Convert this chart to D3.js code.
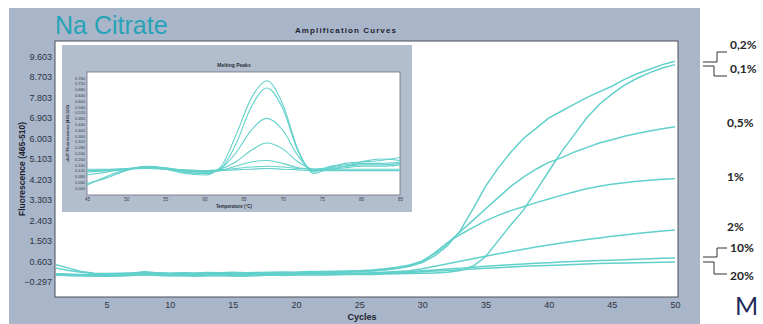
<!DOCTYPE html>
<html>
<head>
<meta charset="utf-8">
<script src="https://cdn.jsdelivr.net/npm/d3@7"></script>
<style>
  body { margin: 0; background: #fff; }
  svg { display: block; }
</style>
</head>
<body>
<div id="chart"></div>
<script>
// Amplification data, cycles 1..50
const cycles = d3.range(1, 51);
const seriesNames = ["0,2%", "0,1%", "0,5%", "1%", "2%", "10%", "20%"];

const s02 = [0.05, 0.02, 0.00, 0.01, 0.03, 0.05, 0.06, 0.10, 0.07, 0.05,
  0.06, 0.04, 0.05, 0.07, 0.06, 0.05, 0.07, 0.08, 0.07, 0.09,
  0.10, 0.12, 0.11, 0.12, 0.14, 0.17, 0.22, 0.28, 0.38, 0.55,
  0.85, 1.30, 1.95, 2.90, 3.90, 4.70, 5.40, 6.00, 6.45, 6.90,
  7.20, 7.50, 7.80, 8.05, 8.30, 8.60, 8.85, 9.05, 9.25, 9.40];
const s01 = [0.00, -0.02, -0.03, -0.02, -0.04, -0.03, -0.01, 0.02, 0.00, -0.02,
  -0.01, -0.04, -0.02, -0.01, -0.05, -0.03, -0.02, 0.00, -0.01, 0.01,
  0.02, 0.00, 0.01, 0.02, 0.03, 0.02, 0.04, 0.05, 0.06, 0.07,
  0.09, 0.12, 0.20, 0.38, 0.80, 1.50, 2.20, 2.85, 3.70, 4.55,
  5.40, 6.15, 6.90, 7.50, 7.95, 8.35, 8.65, 8.90, 9.10, 9.25];
const s05 = [0.45, 0.30, 0.15, 0.08, 0.06, 0.07, 0.09, 0.12, 0.10, 0.08,
  0.10, 0.09, 0.11, 0.10, 0.12, 0.10, 0.11, 0.12, 0.13, 0.12,
  0.14, 0.15, 0.16, 0.17, 0.19, 0.22, 0.27, 0.34, 0.44, 0.62,
  0.95, 1.40, 1.90, 2.40, 2.90, 3.40, 3.90, 4.30, 4.65, 4.95,
  5.15, 5.40, 5.60, 5.80, 5.95, 6.10, 6.22, 6.33, 6.43, 6.52];
const s1 = [0.30, 0.20, 0.12, 0.06, 0.04, 0.05, 0.08, 0.14, 0.09, 0.06,
  0.07, 0.05, 0.08, 0.09, 0.07, 0.06, 0.09, 0.10, 0.09, 0.11,
  0.15, 0.13, 0.12, 0.14, 0.16, 0.19, 0.23, 0.30, 0.40, 0.60,
  0.98, 1.42, 1.78, 2.08, 2.38, 2.62, 2.83, 3.00, 3.18, 3.34,
  3.50, 3.65, 3.79, 3.90, 3.99, 4.06, 4.12, 4.17, 4.21, 4.23];
const s2 = [0.05, 0.03, 0.02, 0.00, -0.02, 0.00, 0.03, 0.06, 0.04, 0.02,
  0.03, 0.01, 0.00, 0.03, 0.02, 0.00, 0.04, 0.05, 0.03, 0.04,
  0.06, 0.05, 0.06, 0.07, 0.08, 0.10, 0.12, 0.15, 0.19, 0.27,
  0.38, 0.49, 0.60, 0.71, 0.82, 0.93, 1.03, 1.13, 1.23, 1.32,
  1.40, 1.48, 1.56, 1.63, 1.70, 1.76, 1.82, 1.88, 1.93, 1.98];
const s10 = [0.02, 0.00, -0.01, -0.02, -0.05, -0.03, 0.00, 0.04, 0.01, -0.01,
  0.00, -0.03, -0.01, 0.02, 0.00, -0.02, 0.01, 0.03, 0.01, 0.03,
  0.05, 0.04, 0.03, 0.05, 0.06, 0.08, 0.10, 0.12, 0.15, 0.18,
  0.22, 0.26, 0.30, 0.34, 0.38, 0.42, 0.45, 0.48, 0.51, 0.54,
  0.57, 0.59, 0.61, 0.63, 0.65, 0.67, 0.69, 0.71, 0.73, 0.75];
const s20 = [0.00, -0.02, -0.04, -0.05, -0.06, -0.04, -0.02, 0.01, -0.02, -0.04,
  -0.03, -0.05, -0.03, -0.02, -0.04, -0.05, -0.02, 0.00, -0.02, 0.00,
  0.02, 0.01, 0.02, 0.03, 0.04, 0.05, 0.07, 0.09, 0.11, 0.14,
  0.17, 0.20, 0.23, 0.26, 0.29, 0.32, 0.35, 0.38, 0.40, 0.42,
  0.44, 0.46, 0.48, 0.50, 0.51, 0.53, 0.54, 0.55, 0.56, 0.57];
const ampSeries = [s02, s01, s05, s1, s2, s10, s20];

const yTicks = [-0.297, 0.603, 1.503, 2.403, 3.303, 4.203, 5.103, 6.003, 6.903, 7.803, 8.703, 9.603];
const xTicks = [5, 10, 15, 20, 25, 30, 35, 40, 45, 50];

// Melting peaks inset
const temps = [45, 47.5, 50, 52.5, 55, 57.5, 60, 62, 64, 66, 68, 70, 72, 74, 76, 78, 80, 82.5, 85];
const m1 = [0.03, 0.07, 0.12, 0.145, 0.13, 0.10, 0.09, 0.14, 0.36, 0.62, 0.74, 0.58, 0.26, 0.10, 0.14, 0.17, 0.18, 0.19, 0.21];
const m2 = [0.02, 0.08, 0.125, 0.15, 0.14, 0.11, 0.10, 0.13, 0.30, 0.56, 0.69, 0.55, 0.25, 0.11, 0.15, 0.16, 0.18, 0.20, 0.19];
const m3 = [0.09, 0.11, 0.13, 0.14, 0.13, 0.11, 0.10, 0.13, 0.24, 0.40, 0.48, 0.40, 0.22, 0.12, 0.13, 0.15, 0.17, 0.17, 0.18];
const m4 = [0.12, 0.12, 0.13, 0.145, 0.14, 0.12, 0.11, 0.13, 0.18, 0.26, 0.31, 0.27, 0.18, 0.13, 0.14, 0.15, 0.16, 0.16, 0.17];
const m5 = [0.11, 0.12, 0.13, 0.14, 0.135, 0.12, 0.11, 0.12, 0.15, 0.18, 0.19, 0.17, 0.14, 0.13, 0.13, 0.14, 0.15, 0.15, 0.16];
const m6 = [0.13, 0.13, 0.135, 0.14, 0.135, 0.125, 0.12, 0.125, 0.135, 0.145, 0.15, 0.145, 0.135, 0.13, 0.13, 0.13, 0.13, 0.13, 0.13];
const m7 = [0.12, 0.125, 0.13, 0.135, 0.13, 0.12, 0.115, 0.12, 0.125, 0.13, 0.135, 0.13, 0.125, 0.12, 0.12, 0.12, 0.12, 0.12, 0.12];
const meltSeries = [m1, m2, m3, m4, m5, m6, m7];
const meltXTicks = [45, 50, 55, 60, 65, 70, 75, 80, 85];
const meltYTicks = d3.range(0, 0.77, 0.04);

const lineColor = "#62d0cb";

const svg = d3.select("#chart").append("svg")
  .attr("width", 763)
  .attr("height", 324);

// grey panel behind the chart
svg.append("rect")
  .attr("x", 9).attr("y", 8)
  .attr("width", 691).attr("height", 316)
  .attr("fill", "#a9b6ca");

// plot area
const plot = { left: 55, right: 678, top: 41, bottom: 297 };

svg.append("rect")
  .attr("x", plot.left).attr("y", plot.top)
  .attr("width", plot.right - plot.left)
  .attr("height", plot.bottom - plot.top)
  .attr("fill", "#fff")
  .attr("stroke", "#4a4f5a")
  .attr("stroke-width", 1);

const x = d3.scaleLinear().domain([1, 50]).range([56, 675]);
const y = d3.scaleLinear().domain([-0.97, 10.29]).range([plot.bottom, plot.top]);

svg.append("clipPath").attr("id", "clipMain")
  .append("rect")
  .attr("x", plot.left).attr("y", plot.top)
  .attr("width", plot.right - plot.left)
  .attr("height", plot.bottom - plot.top);

// y axis
const yAxis = svg.append("g")
  .attr("transform", `translate(${plot.left},0)`)
  .call(d3.axisLeft(y).tickValues(yTicks).tickFormat(d3.format(".3f")).tickSize(0).tickPadding(3));
yAxis.select(".domain").remove();
yAxis.selectAll("text")
  .attr("font-family", "Liberation Sans, Arial, sans-serif")
  .attr("font-size", 9)
  .attr("fill", "#2d3340");

// x axis
const xAxis = svg.append("g")
  .attr("transform", `translate(0,${plot.bottom})`)
  .call(d3.axisBottom(x).tickValues(xTicks).tickSize(0).tickPadding(5));
xAxis.select(".domain").remove();
xAxis.selectAll("text")
  .attr("font-family", "Liberation Sans, Arial, sans-serif")
  .attr("font-size", 9)
  .attr("fill", "#2d3340");

svg.append("text")
  .attr("x", 362).attr("y", 320)
  .attr("text-anchor", "middle")
  .attr("font-family", "Liberation Sans, Arial, sans-serif")
  .attr("font-size", 9).attr("font-weight", "bold")
  .attr("fill", "#1e2330")
  .text("Cycles");

svg.append("text")
  .attr("transform", "translate(25,169) rotate(-90)")
  .attr("text-anchor", "middle")
  .attr("font-family", "Liberation Sans, Arial, sans-serif")
  .attr("font-size", 8.5).attr("font-weight", "bold")
  .attr("fill", "#1e2330")
  .text("Fluorescence (465-510)");

// titles
svg.append("text")
  .attr("x", 55).attr("y", 34)
  .attr("font-family", "Liberation Sans, Arial, sans-serif")
  .attr("font-size", 25)
  .attr("fill", "#27a2b6")
  .text("Na Citrate");

svg.append("text")
  .attr("x", 346).attr("y", 33)
  .attr("text-anchor", "middle")
  .attr("font-family", "Liberation Sans, Arial, sans-serif")
  .attr("font-size", 8).attr("font-weight", "bold")
  .attr("letter-spacing", 1.1)
  .attr("fill", "#1e2330")
  .text("Amplification Curves");

// amplification curves
const line = d3.line()
  .x((d, i) => x(cycles[i]))
  .y(d => y(d));

svg.append("g").attr("clip-path", "url(#clipMain)")
  .selectAll("path")
  .data(ampSeries)
  .join("path")
  .attr("d", line)
  .attr("fill", "none")
  .attr("stroke", lineColor)
  .attr("stroke-width", 1.5);

// inset: melting peaks
const inset = svg.append("g");
inset.append("rect")
  .attr("x", 62).attr("y", 45)
  .attr("width", 350).attr("height", 167)
  .attr("fill", "#b2bdcd");

const ip = { left: 87, right: 400, top: 72, bottom: 195 };
inset.append("rect")
  .attr("x", ip.left).attr("y", ip.top)
  .attr("width", ip.right - ip.left).attr("height", ip.bottom - ip.top)
  .attr("fill", "#fff")
  .attr("stroke", "#6b7180")
  .attr("stroke-width", 0.8);

const mx = d3.scaleLinear().domain([45, 85]).range([ip.left, ip.right]);
const my = d3.scaleLinear().domain([-0.048, 0.80]).range([ip.bottom, ip.top]);

const imx = inset.append("g")
  .attr("transform", `translate(0,${ip.bottom})`)
  .call(d3.axisBottom(mx).tickValues(meltXTicks).tickSize(0).tickPadding(3));
imx.select(".domain").remove();
imx.selectAll("text")
  .attr("font-family", "Liberation Sans, Arial, sans-serif")
  .attr("font-size", 4.5).attr("fill", "#3a4050");

const imy = inset.append("g")
  .attr("transform", `translate(${ip.left},0)`)
  .call(d3.axisLeft(my).tickValues(meltYTicks).tickFormat(d3.format(".3f")).tickSize(0).tickPadding(2));
imy.select(".domain").remove();
imy.selectAll("text")
  .attr("font-family", "Liberation Sans, Arial, sans-serif")
  .attr("font-size", 4).attr("fill", "#3a4050");

inset.append("text")
  .attr("x", 234).attr("y", 67)
  .attr("text-anchor", "middle")
  .attr("font-family", "Liberation Sans, Arial, sans-serif")
  .attr("font-size", 5).attr("font-weight", "bold")
  .attr("fill", "#2a3040")
  .text("Melting Peaks");

inset.append("text")
  .attr("x", 234).attr("y", 208)
  .attr("text-anchor", "middle")
  .attr("font-family", "Liberation Sans, Arial, sans-serif")
  .attr("font-size", 4.5).attr("font-weight", "bold")
  .attr("fill", "#2a3040")
  .text("Temperature (°C)");

inset.append("text")
  .attr("transform", "translate(69,134) rotate(-90)")
  .attr("text-anchor", "middle")
  .attr("font-family", "Liberation Sans, Arial, sans-serif")
  .attr("font-size", 4.2).attr("font-weight", "bold")
  .attr("fill", "#2a3040")
  .text("-d/dT Fluorescence (465-510)");

const mline = d3.line()
  .x((d, i) => mx(temps[i]))
  .y(d => my(d))
  .curve(d3.curveMonotoneX);

inset.append("g")
  .selectAll("path")
  .data(meltSeries)
  .join("path")
  .attr("d", mline)
  .attr("fill", "none")
  .attr("stroke", lineColor)
  .attr("stroke-width", 1.1);

// right-hand labels
const labelY = [49, 73, 127, 181, 231, 252, 280];
const labelX = [730, 730, 727, 727, 727, 730, 730];
svg.append("g")
  .selectAll("text")
  .data(seriesNames)
  .join("text")
  .attr("x", (d, i) => labelX[i])
  .attr("y", (d, i) => labelY[i])
  .attr("font-family", "Lato, Open Sans, sans-serif")
  .attr("font-size", 12).attr("font-weight", "bold")
  .attr("fill", "#262626")
  .text(d => d);

// brackets pointing from curves to labels
const brackets = [
  [[703, 62], [717, 62], [717, 52], [727, 52]],
  [[703, 66], [714, 66], [714, 76], [727, 76]],
  [[703, 257], [717, 257], [717, 248], [727, 248]],
  [[703, 262], [714, 262], [714, 274], [727, 274]]
];
svg.append("g")
  .selectAll("path")
  .data(brackets)
  .join("path")
  .attr("d", d3.line())
  .attr("fill", "none")
  .attr("stroke", "#333")
  .attr("stroke-width", 1);

svg.append("text")
  .attr("x", 735).attr("y", 315)
  .attr("font-family", "Lato, Open Sans, sans-serif")
  .attr("font-size", 25)
  .attr("fill", "#1d2b5c")
  .text("M");
</script>
</body>
</html>
